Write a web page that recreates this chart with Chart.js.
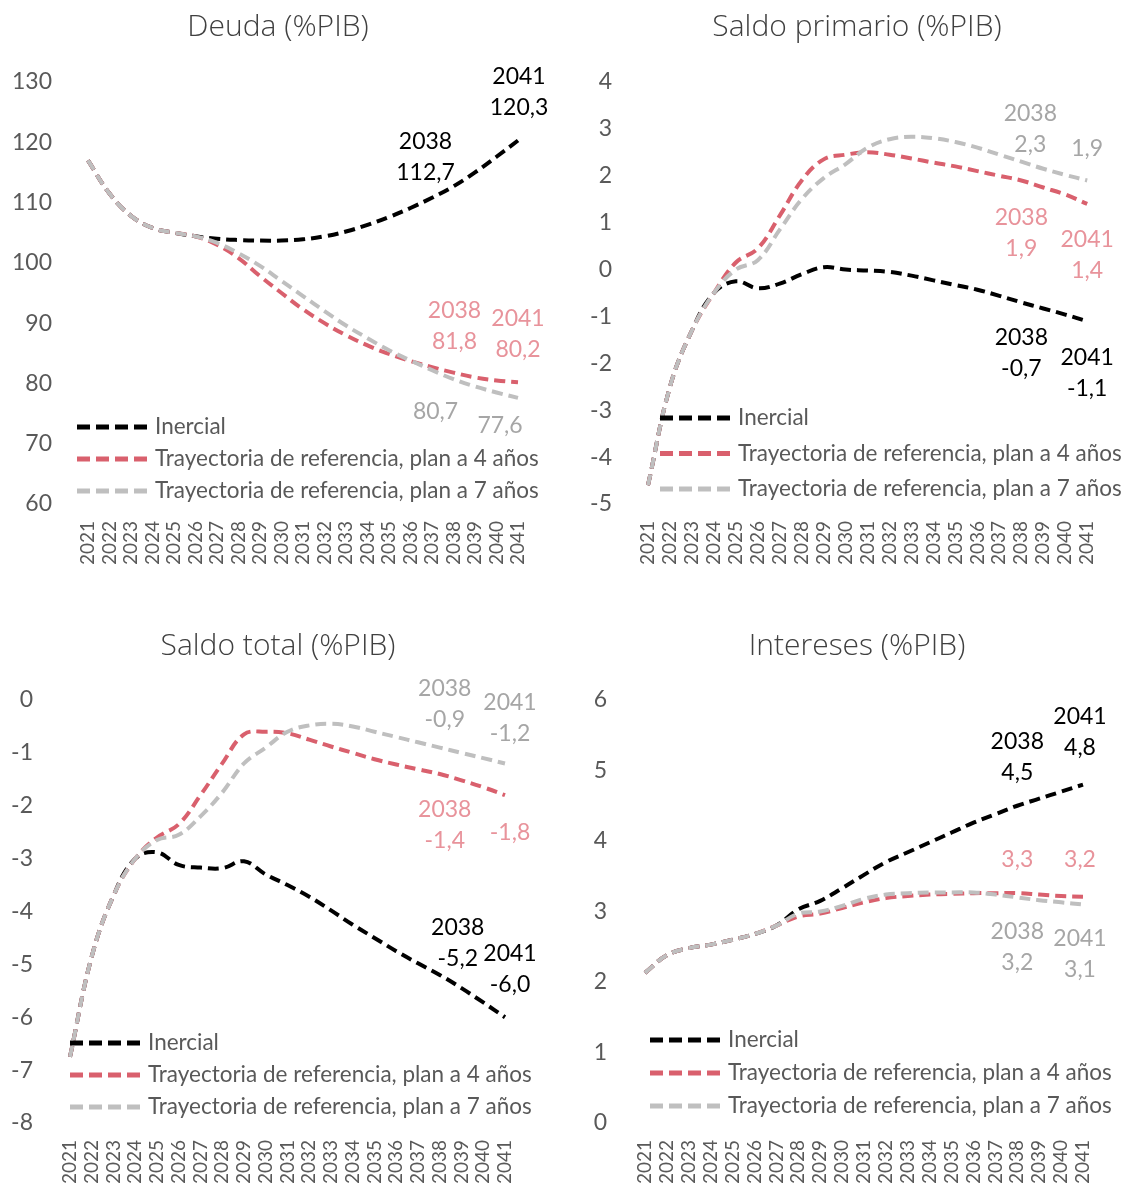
<!DOCTYPE html>
<html>
<head>
<meta charset="utf-8">
<script src="https://cdn.jsdelivr.net/npm/chart.js@4.4.1/dist/chart.umd.min.js"></script>
<style>
  body { margin: 0; background: #fff; }
  #wrap { position: relative; width: 1127px; height: 1187px; }
  canvas { position: absolute; }
</style>
</head>
<body>
<div id="wrap">
  <canvas id="deuda" width="563" height="593" style="left:0;top:0"></canvas>
  <canvas id="primario" width="564" height="593" style="left:563px;top:0"></canvas>
  <canvas id="total" width="563" height="594" style="left:0;top:593px"></canvas>
  <canvas id="intereses" width="564" height="594" style="left:563px;top:593px"></canvas>
</div>
<script>
// ------- data -------------------------------
const years = ['2021', '2022', '2023', '2024', '2025', '2026', '2027', '2028', '2029', '2030', '2031',
    '2032', '2033', '2034', '2035', '2036', '2037', '2038', '2039', '2040', '2041'];

const seriesNames = ['Inercial', 'Trayectoria de referencia, plan a 4 años', 'Trayectoria de referencia, plan a 7 años'];

const deudaInercial = [117.0, 111.5, 107.8, 105.8, 105.0, 104.4, 104.0, 103.8, 103.7, 103.7, 103.9,
    104.4, 105.2, 106.3, 107.6, 109.1, 110.8, 112.7, 115.0, 117.6, 120.3];
const deudaPlan4 = [117.0, 111.5, 107.8, 105.8, 105.0, 104.4, 103.0, 100.8, 97.8, 95.0, 92.3,
    90.0, 88.0, 86.3, 84.9, 83.7, 82.7, 81.8, 81.0, 80.5, 80.2];
const deudaPlan7 = [117.0, 111.5, 107.8, 105.8, 105.0, 104.4, 103.3, 101.6, 99.5, 97.0, 94.5,
    92.0, 89.6, 87.5, 85.5, 83.8, 82.2, 80.7, 79.5, 78.5, 77.6];

const primInercial = [-4.6, -2.5, -1.3, -0.5, -0.25, -0.4, -0.3, -0.1, 0.05, 0.0, -0.02,
    -0.05, -0.13, -0.23, -0.33, -0.43, -0.56, -0.7, -0.83, -0.96, -1.1];
const primPlan4 = [-4.6, -2.5, -1.3, -0.5, 0.15, 0.45, 1.15, 1.9, 2.35, 2.45, 2.5,
    2.45, 2.37, 2.28, 2.2, 2.1, 2.0, 1.9, 1.75, 1.6, 1.4];
const primPlan7 = [-4.6, -2.5, -1.3, -0.5, 0.0, 0.2, 0.85, 1.5, 1.95, 2.25, 2.6,
    2.78, 2.83, 2.8, 2.72, 2.6, 2.45, 2.3, 2.15, 2.02, 1.9];

const totalInercial = [-6.75, -4.85, -3.7, -3.0, -2.88, -3.12, -3.17, -3.18, -3.05, -3.3, -3.5,
    -3.72, -3.98, -4.25, -4.5, -4.75, -4.98, -5.2, -5.45, -5.72, -6.0];
const totalPlan4 = [-6.75, -4.85, -3.7, -3.0, -2.6, -2.35, -1.8, -1.2, -0.65, -0.6, -0.63,
    -0.75, -0.88, -1.0, -1.12, -1.22, -1.31, -1.4, -1.52, -1.65, -1.8];
const totalPlan7 = [-6.75, -4.85, -3.7, -3.0, -2.65, -2.55, -2.2, -1.75, -1.2, -0.9, -0.6,
    -0.48, -0.45, -0.5, -0.6, -0.7, -0.8, -0.9, -1.0, -1.1, -1.2];

const intInercial = [2.13, 2.38, 2.48, 2.53, 2.6, 2.68, 2.8, 3.03, 3.15, 3.33, 3.52,
    3.7, 3.84, 3.98, 4.12, 4.26, 4.38, 4.5, 4.6, 4.7, 4.8];
const intPlan4 = [2.13, 2.38, 2.48, 2.53, 2.6, 2.68, 2.8, 2.93, 2.97, 3.05, 3.13,
    3.19, 3.22, 3.24, 3.25, 3.26, 3.26, 3.26, 3.24, 3.22, 3.21];
const intPlan7 = [2.13, 2.38, 2.48, 2.53, 2.6, 2.68, 2.8, 2.97, 3.0, 3.08, 3.18,
    3.24, 3.26, 3.27, 3.27, 3.27, 3.24, 3.2, 3.16, 3.13, 3.1];

// ------- styles -----------
const lineColors = ['#000000', '#D9606D', '#BFBFBF'];
const noteColors = ['#000000', '#E8939B', '#A6A6A6'];
const textGrey = '#595959';
const bodyFont = 'Lato, "DejaVu Sans", sans-serif';

// panel title, centred where the original puts it
const panelTitle = {
    id: 'panelTitle',
    afterDraw(chart, args, opts) {
        const ctx = chart.ctx;
        ctx.save();
        ctx.fillStyle = '#404040';
        ctx.font = '300 30px "Open Sans", sans-serif';
        ctx.textAlign = 'center';
        ctx.textBaseline = 'middle';
        ctx.fillText(opts.text, opts.x, opts.y);
        ctx.restore();
    }
};

// draws the legend inside the plot, one dashed sample per dataset
const insideLegend = {
    id: 'insideLegend',
    afterDraw(chart, args, opts) {
        const ctx = chart.ctx;
        ctx.save();
        chart.data.datasets.forEach((ds, i) => {
            const y = opts.y + i * opts.gap;
            ctx.strokeStyle = ds.borderColor;
            ctx.lineWidth = 5;
            ctx.setLineDash([13, 6]);
            ctx.beginPath();
            ctx.moveTo(opts.x, y);
            ctx.lineTo(opts.x + 70, y);
            ctx.stroke();
            ctx.setLineDash([]);
            ctx.fillStyle = textGrey;
            ctx.font = '22.5px ' + bodyFont;
            ctx.textBaseline = 'middle';
            ctx.fillText(ds.label, opts.x + 78, y);
        });
        ctx.restore();
    }
};

// year / value notes next to the 2038 and 2041 points
const pointNotes = {
    id: 'pointNotes',
    afterDatasetsDraw(chart, args, opts) {
        const ctx = chart.ctx;
        ctx.save();
        ctx.font = '23px ' + bodyFont;
        ctx.textAlign = 'center';
        ctx.textBaseline = 'middle';
        opts.items.forEach(it => {
            const pt = chart.getDatasetMeta(it.ds).data[it.idx];
            const value = chart.data.datasets[it.ds].data[it.idx];
            const lines = [];
            if (it.year) lines.push(chart.data.labels[it.idx]);
            lines.push(value.toFixed(1).replace('.', ','));
            ctx.fillStyle = noteColors[it.ds];
            lines.forEach((t, k) => ctx.fillText(t, pt.x + it.dx, pt.y + it.dy + k * 31));
        });
        ctx.restore();
    }
};

function makePanel(p) {
    const canvas = document.getElementById(p.id);
    const w = canvas.width, h = canvas.height;

    const datasets = p.series.map((data, i) => ({
        label: seriesNames[i],
        data: data,
        borderColor: lineColors[i],
        backgroundColor: lineColors[i],
        borderWidth: 4,
        borderDash: [11, 6],
        pointRadius: 0,
        tension: 0.4,
        fill: false,
        order: 2 - i
    }));

    return new Chart(canvas, {
        type: 'line',
        data: { labels: years, datasets: datasets },
        plugins: [insideLegend, pointNotes, panelTitle],
        options: {
            responsive: false,
            animation: false,
            layout: { padding: { left: 0, right: w - p.area.r, top: p.area.t, bottom: 0 } },
            scales: {
                x: {
                    grid: { display: false, drawTicks: false },
                    border: { display: false },
                    ticks: {
                        autoSkip: false, maxRotation: 90, minRotation: 90, padding: 17,
                        color: textGrey, font: { family: bodyFont, size: 19 }
                    },
                    afterFit: s => { s.height = h - p.area.b; }
                },
                y: {
                    min: p.min, max: p.max,
                    grid: { display: false, drawTicks: false },
                    border: { display: false },
                    ticks: {
                        stepSize: p.step, padding: p.tickPad,
                        color: textGrey, font: { family: bodyFont, size: 23 }
                    },
                    afterFit: s => { s.width = p.area.l; }
                }
            },
            plugins: {
                legend: { display: false },
                tooltip: { enabled: false },
                title: { display: false },
                panelTitle: { text: p.title, x: p.titleX, y: p.titleY },
                insideLegend: p.legend,
                pointNotes: { items: p.notes }
            }
        }
    });
}

makePanel({
    id: 'deuda', title: 'Deuda (%PIB)', series: [deudaInercial, deudaPlan4, deudaPlan7],
    min: 60, max: 130, step: 10, tickPad: 36,
    area: { l: 88, r: 518, t: 82, b: 504 }, titleX: 278, titleY: 27,
    legend: { x: 77, y: 427, gap: 32 },
    notes: [
        { ds: 0, idx: 17, year: true, dx: -28, dy: -45 },
        { ds: 0, idx: 20, year: true, dx: 1, dy: -64 },
        { ds: 1, idx: 17, year: true, dx: 1, dy: -62 },
        { ds: 1, idx: 20, year: true, dx: 0, dy: -64 },
        { ds: 2, idx: 17, year: false, dx: -18, dy: 32 },
        { ds: 2, idx: 20, year: false, dx: -18, dy: 28 }
    ]
});

makePanel({
    id: 'primario', title: 'Saldo primario (%PIB)', series: [primInercial, primPlan4, primPlan7],
    min: -5, max: 4, step: 1, tickPad: 36,
    area: { l: 85, r: 540, t: 82, b: 504 }, titleX: 294, titleY: 27,
    legend: { x: 97, y: 418, gap: 35.5 },
    notes: [
        { ds: 2, idx: 17, year: true, dx: 9, dy: -48 },
        { ds: 2, idx: 20, year: false, dx: 0, dy: -32 },
        { ds: 1, idx: 17, year: true, dx: 0, dy: 37 },
        { ds: 1, idx: 20, year: true, dx: 0, dy: 36 },
        { ds: 0, idx: 17, year: true, dx: 0, dy: 35 },
        { ds: 0, idx: 20, year: true, dx: 0, dy: 36 }
    ]
});

makePanel({
    id: 'total', title: 'Saldo total (%PIB)', series: [totalInercial, totalPlan4, totalPlan7],
    min: -8, max: 0, step: 1, tickPad: 37,
    area: { l: 70, r: 505, t: 107, b: 530 }, titleX: 278, titleY: 53,
    legend: { x: 70, y: 450, gap: 32 },
    notes: [
        { ds: 2, idx: 17, year: true, dx: 5, dy: -59 },
        { ds: 2, idx: 20, year: true, dx: 5, dy: -61 },
        { ds: 1, idx: 17, year: true, dx: 5, dy: 36 },
        { ds: 1, idx: 20, year: false, dx: 5, dy: 37 },
        { ds: 0, idx: 17, year: true, dx: 18, dy: -47 },
        { ds: 0, idx: 20, year: true, dx: 5, dy: -64 }
    ]
});

makePanel({
    id: 'intereses', title: 'Intereses (%PIB)', series: [intInercial, intPlan4, intPlan7],
    min: 0, max: 6, step: 1, tickPad: 38,
    area: { l: 82, r: 520, t: 107, b: 530 }, titleX: 294, titleY: 53,
    legend: { x: 87, y: 447, gap: 33 },
    notes: [
        { ds: 0, idx: 17, year: true, dx: 0, dy: -64 },
        { ds: 0, idx: 20, year: true, dx: -3, dy: -68 },
        { ds: 1, idx: 17, year: false, dx: 0, dy: -34 },
        { ds: 1, idx: 20, year: false, dx: -3, dy: -37 },
        { ds: 2, idx: 17, year: true, dx: 0, dy: 34 },
        { ds: 2, idx: 20, year: true, dx: -3, dy: 34 }
    ]
});
</script>
</body>
</html>
